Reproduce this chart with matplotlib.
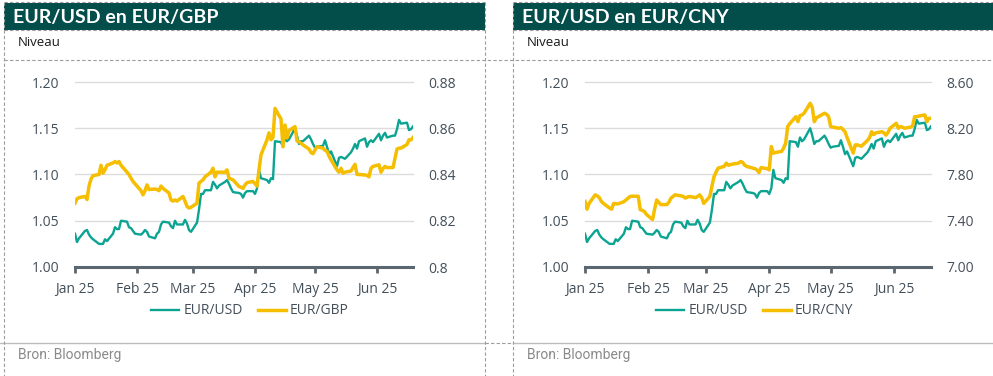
import matplotlib
matplotlib.use("Agg")
import matplotlib.pyplot as plt
import matplotlib.dates as mdates
from matplotlib.lines import Line2D
from matplotlib.patches import Rectangle
from matplotlib import font_manager
import pandas as pd

# ---------------- data ----------------
dates = pd.bdate_range("2025-01-01", "2025-06-19")

eur_usd = [
    1.036, 1.027, 1.031,
    1.039, 1.040, 1.035, 1.032, 1.030,
    1.025, 1.025, 1.025, 1.030, 1.028,
    1.036, 1.043, 1.041, 1.041, 1.050,
    1.049, 1.043, 1.042, 1.039, 1.036,
    1.035, 1.037, 1.040, 1.038, 1.033,
    1.031, 1.036, 1.038, 1.046, 1.049,
    1.048, 1.044, 1.042, 1.050, 1.046,
    1.046, 1.051, 1.047, 1.040, 1.038,
    1.048, 1.062, 1.079, 1.079, 1.083,
    1.083, 1.092, 1.089, 1.085, 1.088,
    1.092, 1.094, 1.090, 1.085, 1.081,
    1.080, 1.079, 1.075, 1.080, 1.082,
    1.082, 1.079, 1.085, 1.105, 1.096,
    1.094, 1.091, 1.096, 1.095, 1.136,
    1.135, 1.130, 1.140, 1.136, 1.138,
    1.150, 1.142, 1.133, 1.136, 1.136,
    1.142, 1.138, 1.133, 1.129, 1.130,
    1.131, 1.137, 1.130, 1.122, 1.125,
    1.109, 1.118, 1.119, 1.118, 1.117,
    1.124, 1.128, 1.133, 1.128, 1.136,
    1.139, 1.130, 1.135, 1.137, 1.135,
    1.144, 1.137, 1.142, 1.145, 1.140,
    1.142, 1.142, 1.149, 1.159, 1.155,
    1.156, 1.148, 1.149, 1.152,
]

eur_gbp = [
    0.8276, 0.8295, 0.8300,
    0.8305, 0.8292, 0.8350, 0.8380, 0.8395,
    0.8400, 0.8440, 0.8406, 0.8420, 0.8440,
    0.8450, 0.8456, 0.8450, 0.8456, 0.8440,
    0.8410, 0.8400, 0.8384, 0.8370, 0.8360,
    0.8330, 0.8312, 0.8330, 0.8355, 0.8335,
    0.8337, 0.8335, 0.8330, 0.8350, 0.8340,
    0.8320, 0.8290, 0.8285, 0.8290, 0.8285,
    0.8305, 0.8285, 0.8262, 0.8255, 0.8258,
    0.8276, 0.8363, 0.8370, 0.8377, 0.8390,
    0.8410, 0.8427, 0.8390, 0.8410, 0.8410,
    0.8410, 0.8420, 0.8384, 0.8380, 0.8377,
    0.8348, 0.8345, 0.8340, 0.8355, 0.8365,
    0.8370, 0.8360, 0.8350, 0.8420, 0.8485,
    0.8550, 0.8580, 0.8550, 0.8560, 0.8686,
    0.8640, 0.8520, 0.8614, 0.8558, 0.8590,
    0.8607, 0.8545, 0.8542, 0.8535, 0.8528,
    0.8510, 0.8495, 0.8490, 0.8506, 0.8520,
    0.8514, 0.8505, 0.8500, 0.8480, 0.8463,
    0.8420, 0.8410, 0.8427, 0.8406, 0.8410,
    0.8415, 0.8430, 0.8444, 0.8400, 0.8400,
    0.8398, 0.8396, 0.8390, 0.8427, 0.8435,
    0.8442, 0.8410, 0.8425, 0.8435, 0.8430,
    0.8430, 0.8470, 0.8510, 0.8514, 0.8514,
    0.8530, 0.8550, 0.8550, 0.8560,
]

eur_cny = [
    7.567, 7.500, 7.550,
    7.624, 7.615, 7.600, 7.567, 7.550,
    7.510, 7.500, 7.550, 7.548, 7.545,
    7.565, 7.580, 7.595, 7.610, 7.612,
    7.612, 7.495, 7.490, 7.480, 7.455,
    7.410, 7.500, 7.580, 7.560, 7.540,
    7.540, 7.560, 7.596, 7.610, 7.624,
    7.615, 7.610, 7.596, 7.605, 7.610,
    7.600, 7.610, 7.624, 7.600, 7.550,
    7.610, 7.700, 7.780, 7.820, 7.855,
    7.870, 7.898, 7.880, 7.885, 7.890,
    7.898, 7.912, 7.905, 7.880, 7.870,
    7.855, 7.850, 7.840, 7.817, 7.860,
    7.850, 7.840, 8.042, 7.985, 7.990,
    8.000, 8.027, 8.070, 8.214, 8.240,
    8.300, 8.257, 8.310, 8.315, 8.330,
    8.416, 8.380, 8.257, 8.290, 8.300,
    8.330, 8.320, 8.300, 8.214, 8.210,
    8.200, 8.205, 8.190, 8.170, 8.120,
    7.985, 8.056, 8.056, 8.050, 8.045,
    8.095, 8.120, 8.170, 8.145, 8.160,
    8.170, 8.160, 8.140, 8.165, 8.200,
    8.243, 8.200, 8.214, 8.210, 8.200,
    8.210, 8.220, 8.300, 8.300, 8.305,
    8.315, 8.257, 8.286, 8.286,
]

month_ticks = pd.date_range("2025-01-01", periods=6, freq="MS")
month_labels = ["Jan 25", "Feb 25", "Mar 25", "Apr 25", "May 25", "Jun 25"]

left_ticks = [1.00, 1.05, 1.10, 1.15, 1.20]
left_labels = ["1.00", "1.05", "1.10", "1.15", "1.20"]
gbp_ticks = [0.80, 0.82, 0.84, 0.86, 0.88]
gbp_labels = ["0.8", "0.82", "0.84", "0.86", "0.88"]
cny_ticks = [7.00, 7.40, 7.80, 8.20, 8.60]
cny_labels = ["7.00", "7.40", "7.80", "8.20", "8.60"]

titles = ["EUR/USD en EUR/GBP", "EUR/USD en EUR/CNY"]
series_names = [("EUR/USD", "EUR/GBP"), ("EUR/USD", "EUR/CNY")]
source = "Bron: Bloomberg"
unit = "Niveau"

# ---------------- style ----------------
TEAL = "#0BA391"
YELLOW = "#F6BE00"
HEADER = "#034D4B"
AXIS = "#5A6670"
TICKTXT = "#434F59"
GRID = "#DCDCDC"
DASH = "#9C9C9C"

avail = {f.name for f in font_manager.fontManager.ttflist}
def pick(*names):
    for n in names:
        if n in avail:
            return n
    return "DejaVu Sans"

F_TITLE = pick("Lato", "Open Sans")
F_TICK = pick("Open Sans", "Lato")
F_SRC = pick("Liberation Sans Narrow", "Roboto")

W, H = 993, 376
fig = plt.figure(figsize=(W / 100, H / 100), dpi=100)

def fx(x):
    return x / W

def fy(y):
    return 1 - y / H

def hline(x0, x1, y, **kw):
    fig.add_artist(Line2D([fx(x0), fx(x1)], [fy(y), fy(y)], transform=fig.transFigure, **kw))

def vline(x, y0, y1, **kw):
    fig.add_artist(Line2D([fx(x), fx(x)], [fy(y0), fy(y1)], transform=fig.transFigure, **kw))

dash_kw = dict(color=DASH, lw=0.8, ls=(0, (3, 2)))

# frame / decorations
panels = [
    dict(x0=4, x1=485, ax_l=75, ax_r=413, leg_x=250),
    dict(x0=513, x1=993, ax_l=585, ax_r=931, leg_x=755),
]

for i, p in enumerate(panels):
    fig.add_artist(Rectangle((fx(p["x0"]), fy(30)), fx(p["x1"]) - fx(p["x0"]), 27 / H,
                             transform=fig.transFigure, facecolor=HEADER, edgecolor="none"))
    fig.text(fx(p["x0"] + 9), fy(17), titles[i], color="white", fontsize=14,
             fontweight="bold", family=F_TITLE, va="center", ha="left")
    fig.text(fx(p["x0"] + 14), fy(42), unit, color="#1a1a1a", fontsize=9.5,
             family=F_TICK, va="center", ha="left")
    fig.text(fx(p["x0"] + 14), fy(355), source, color="#8a8a8a", fontsize=10,
             family=F_SRC, va="center", ha="left")
    hline(p["x0"], p["x1"], 2, **dash_kw)
    hline(p["x0"], p["x1"], 30, **dash_kw)
    hline(0 if i == 0 else p["x0"], p["x1"], 343, color="#BDBDBD", lw=1.0)

hline(4, 993, 60, **dash_kw)
hline(485, 513, 343, **dash_kw)
for x in (4, 485, 513):
    vline(x, 2, 376, **dash_kw)

# ---------------- charts ----------------
right_series = [eur_gbp, eur_cny]
right_ticks = [gbp_ticks, cny_ticks]
right_labels = [gbp_labels, cny_labels]

for i, p in enumerate(panels):
    ax = fig.add_axes([fx(p["ax_l"]), fy(267), (p["ax_r"] - p["ax_l"]) / W, (267 - 82) / H])
    ax2 = ax.twinx()
    l1, = ax.plot(dates, eur_usd, color=TEAL, lw=1.7, solid_joinstyle="round")
    l2, = ax2.plot(dates, right_series[i], color=YELLOW, lw=2.5, solid_joinstyle="round")

    ax.set_xlim(dates[0], dates[-1])
    ax.set_ylim(1.00, 1.20)
    ax2.set_ylim(right_ticks[i][0], right_ticks[i][-1])

    ax.set_yticks(left_ticks)
    ax.set_yticklabels(left_labels)
    ax2.set_yticks(right_ticks[i])
    ax2.set_yticklabels(right_labels[i])

    ax.set_xticks(month_ticks)
    ax.set_xticklabels(month_labels)

    for a in (ax, ax2):
        for s in a.spines.values():
            s.set_visible(False)
    ax.spines["bottom"].set_visible(True)
    ax.spines["bottom"].set_color(AXIS)
    ax.spines["bottom"].set_linewidth(2.2)
    ax.spines["bottom"].set_zorder(5)

    ax.grid(axis="y", color=GRID, lw=1.0)
    ax.set_axisbelow(True)
    for gl in ax.get_ygridlines():
        gl.set_clip_on(False)

    ax.tick_params(axis="x", direction="out", length=4, width=2, color=AXIS,
                   labelcolor=TICKTXT, labelsize=10, pad=7)
    ax.tick_params(axis="y", length=0, labelcolor=TICKTXT, labelsize=10, pad=11)
    ax2.tick_params(axis="y", length=0, labelcolor=TICKTXT, labelsize=10, pad=11)
    for lab in ax.get_xticklabels() + ax.get_yticklabels() + ax2.get_yticklabels():
        lab.set_family(F_TICK)

    leg = fig.legend([l1, l2], list(series_names[i]), loc="center",
                     bbox_to_anchor=(fx(p["leg_x"]), fy(311)), ncol=2, frameon=False,
                     handlelength=2.0, handletextpad=0.3, columnspacing=1.1,
                     prop={"family": F_TICK, "size": 10})
    for t in leg.get_texts():
        t.set_color(TICKTXT)

fig.savefig("out.png", dpi=100)
